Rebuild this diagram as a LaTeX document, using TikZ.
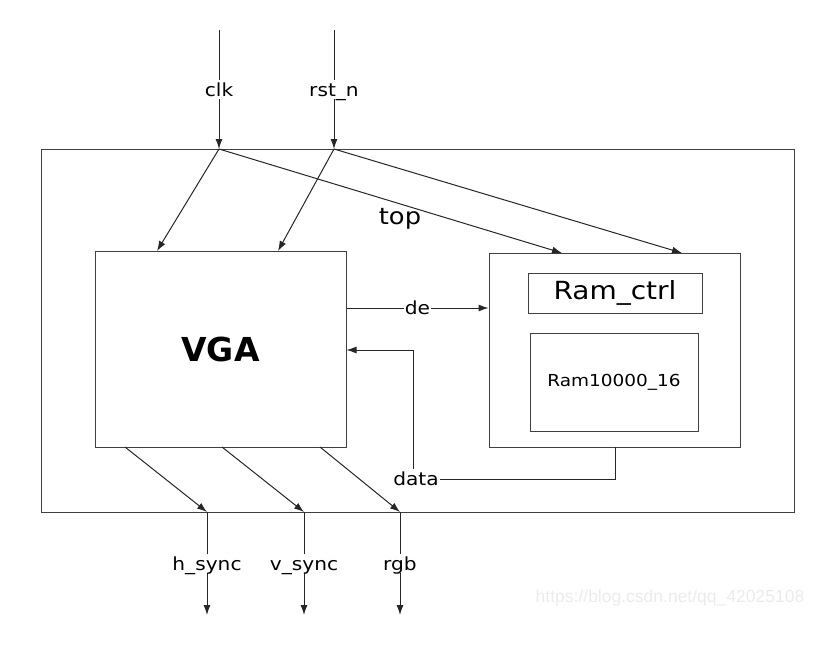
\documentclass[tikz,border=0pt]{standalone}
\usepackage{fontspec}
\setmainfont{DejaVu Sans}[FakeStretch=1.12]
\newfontfamily\vgafont{DejaVu Sans}
\newfontfamily\wmfont{Liberation Sans}
\usetikzlibrary{arrows.meta}
\tikzset{
  blk/.style={draw=black!75, line width=1pt, inner sep=0pt},
  sig/.style={draw=black!85, line width=1pt, -{Latex[length=10pt,width=7pt]}},
  wire/.style={draw=black!85, line width=1pt},
  lbl/.style={fill=white, inner sep=1pt, text height=15pt, text depth=2pt,
    font=\fontsize{18}{20}\selectfont}
}
\begin{document}
\begin{tikzpicture}[x=1pt,y=-1pt]
\useasboundingbox (0,0) rectangle (830,648);
% boxes
\node[blk, minimum width=753, minimum height=363] (top) at (417.5,330.5) {};
\node[font=\fontsize{23}{25}\selectfont] (toplbl) at (400,219) {top};
\node[blk, minimum width=251, minimum height=196, font=\vgafont\bfseries\fontsize{33}{35}\selectfont] (vga) at (220.5,349) {VGA};
\node[blk, minimum width=251, minimum height=194] (ram) at (614.5,350) {};
\node[blk, minimum width=174, minimum height=40, font=\fontsize{25}{27}\selectfont] (ctrl) at (615,293) {Ram\_ctrl};
\node[blk, minimum width=168, minimum height=98, font=\fontsize{16.5}{18}\selectfont] (mem) at (614,382) {Ram10000\_16};
% inputs
\coordinate (clkin) at (219,30);
\coordinate (clkj) at (219,149);
\coordinate (rstin) at (334,30);
\coordinate (rstj) at (334,149);
\draw[sig] (clkin) -- node[lbl] (clk) {clk} (clkj);
\draw[sig] (rstin) -- node[lbl] (rst) {rst\_n} (rstj);
\coordinate (vgaclk) at (157,251);
\coordinate (vgarst) at (278,251);
\coordinate (ramclk) at (562,253);
\coordinate (ramrst) at (682,253);
\draw[sig] (clkj) -- (vgaclk);
\draw[sig] (clkj) -- (ramclk);
\draw[sig] (rstj) -- (vgarst);
\draw[sig] (rstj) -- (ramrst);
% de / data
\draw[sig] (vga.east |- 0,308) -- node[lbl] (de) {de} (ram.west |- 0,308);
\node[lbl] (data) at (416,479) {data};
\coordinate (ramout) at (615,447);
\coordinate (dbend) at (413,350);
\draw[wire] (ramout) |- (data.east);
\draw[sig] (data.north -| dbend) -- (dbend) -- (vga.east |- dbend);
% outputs
\coordinate (hs0) at (125,447);
\coordinate (vs0) at (222,447);
\coordinate (rgb0) at (320,447);
\coordinate (hsj) at (207,512);
\coordinate (vsj) at (304,512);
\coordinate (rgbj) at (400,512);
\draw[sig] (hs0) -- (hsj);
\draw[sig] (vs0) -- (vsj);
\draw[sig] (rgb0) -- (rgbj);
\draw[sig] (hsj) -- node[lbl] (hs) {h\_sync} (207,615);
\draw[sig] (vsj) -- node[lbl] (vs) {v\_sync} (304,615);
\draw[sig] (rgbj) -- node[lbl] (rgb) {rgb} (400,615);
% watermark
\node[text=black!8, font=\wmfont\fontsize{17.5}{19}\selectfont] (wm) at (670,598) {https://blog.csdn.net/qq\_42025108};
\end{tikzpicture}
\end{document}
